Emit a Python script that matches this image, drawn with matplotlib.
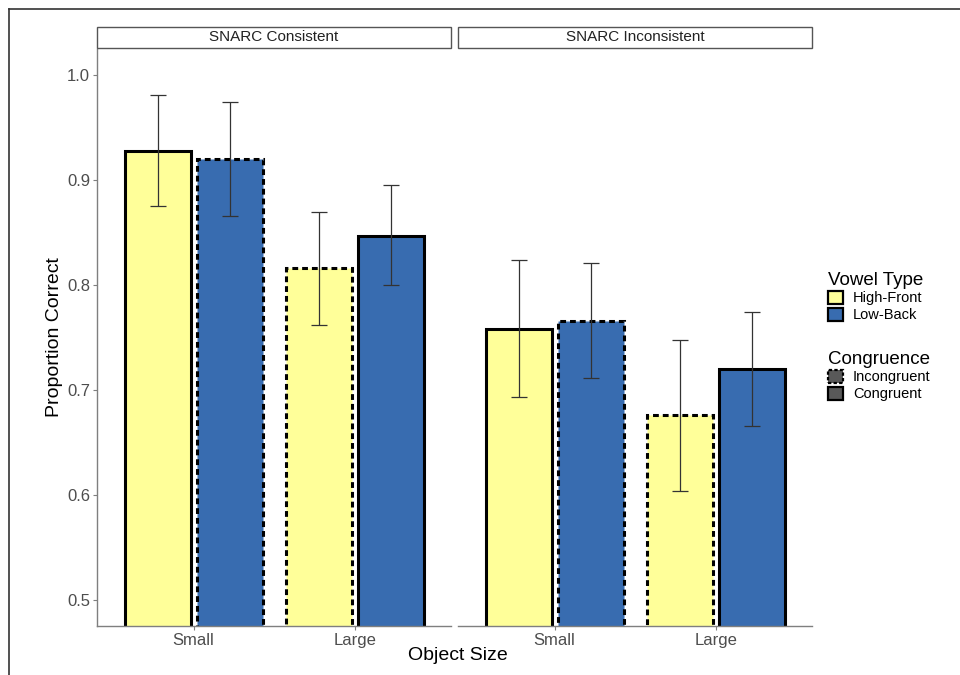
import matplotlib
matplotlib.use("Agg")
import matplotlib.pyplot as plt
from matplotlib.patches import Patch, Rectangle
from matplotlib.lines import Line2D

plt.rcParams["font.family"] = ["Liberation Sans", "DejaVu Sans"]

# data
panels = ["SNARC Consistent", "SNARC Inconsistent"]
sizes = ["Small", "Large"]
vowels = ["High-Front", "Low-Back"]

# mean proportion correct, [panel][size][vowel]
means = [
    [[0.928, 0.920], [0.816, 0.847]],
    [[0.758, 0.766], [0.676, 0.720]],
]
ci_low = [
    [[0.875, 0.866], [0.762, 0.800]],
    [[0.693, 0.712], [0.604, 0.666]],
]
ci_high = [
    [[0.981, 0.975], [0.870, 0.895]],
    [[0.824, 0.821], [0.748, 0.774]],
]
# True = congruent (solid edge), False = incongruent (dashed edge)
congruent = [
    [[True, False], [False, True]],
    [[True, False], [False, True]],
]

vowel_colors = ["#ffff99", "#386cb0"]
grey_txt = "#4d4d4d"
axis_grey = "#7f7f7f"

fig = plt.figure(figsize=(9.6, 6.75), dpi=100)

# outer frame (cropped figure border: top and left visible)
fig.add_artist(Line2D([0.0094, 1.0], [0.987, 0.987], color="#333333", lw=1.2))
fig.add_artist(Line2D([0.0094, 0.0094], [0.0, 0.987], color="#333333", lw=1.2))

ax_lefts = [0.1010, 0.4771]
ax_w = 0.3690
ax_bottom = 0.0730
ax_h = 0.8540
width = 0.41
offset = 0.2235

axes = []
for p, name in enumerate(panels):
    ax = fig.add_axes([ax_lefts[p], ax_bottom, ax_w, ax_h])
    axes.append(ax)
    for s, size in enumerate(sizes):
        for v, vowel in enumerate(vowels):
            x = s + 1 + (offset if v == 1 else -offset)
            m = means[p][s][v]
            ls = "-" if congruent[p][s][v] else (0, (1.9, 1.3))
            ax.bar(x, m - 0.4, bottom=0.4, width=width, color=vowel_colors[v],
                   edgecolor="black", linewidth=2.2, linestyle=ls, zorder=2)
            ax.errorbar(x, m, yerr=[[m - ci_low[p][s][v]], [ci_high[p][s][v] - m]],
                        fmt="none", ecolor="#333333", elinewidth=0.9,
                        capsize=5.7, capthick=0.9, zorder=3)
    ax.set_xlim(0.4, 2.6)
    ax.set_ylim(0.4755, 1.0248)
    ax.set_xticks([1, 2])
    ax.set_xticklabels(sizes)
    ax.set_yticks([0.5, 0.6, 0.7, 0.8, 0.9, 1.0])
    ax.set_yticklabels(["0.5", "0.6", "0.7", "0.8", "0.9", "1.0"])
    ax.tick_params(axis="both", colors=axis_grey, labelcolor=grey_txt,
                   labelsize=12, length=3, width=0.8, pad=2)
    for side in ["top", "right"]:
        ax.spines[side].set_visible(False)
    ax.spines["bottom"].set_color(axis_grey)
    ax.spines["left"].set_color(axis_grey)
    ax.spines["bottom"].set_linewidth(1.0)
    ax.spines["left"].set_linewidth(1.0)
    if p == 1:
        ax.spines["left"].set_visible(False)
        ax.tick_params(axis="y", left=False, labelleft=False)

    # facet strip
    strip = Rectangle((ax_lefts[p], 0.9289), ax_w, 0.0311, transform=fig.transFigure,
                      facecolor="white", edgecolor="#555555", lw=1.0)
    fig.add_artist(strip)
    fig.text(ax_lefts[p] + ax_w / 2, 0.9445, name, ha="center", va="center",
             fontsize=11, color="#222222")

axes[0].set_ylabel("Proportion Correct", fontsize=14, color="black", labelpad=3)
fig.text(0.4771, 0.029, "Object Size", ha="center", va="center", fontsize=14)

# legends
vowel_handles = [Patch(facecolor=c, edgecolor="black", lw=1.6) for c in vowel_colors]
leg1 = fig.legend(vowel_handles, vowels, title="Vowel Type", loc="upper left",
                  bbox_to_anchor=(0.849, 0.617), frameon=False, fontsize=10.5,
                  title_fontsize=13.5, handlelength=1.0, handleheight=1.0,
                  handletextpad=0.7, labelspacing=0.15, alignment="left")
cong_handles = [
    Patch(facecolor="#595959", edgecolor="black", lw=1.6, linestyle=(0, (1.5, 1.0))),
    Patch(facecolor="#595959", edgecolor="black", lw=1.6),
]
leg2 = fig.legend(cong_handles, ["Incongruent", "Congruent"], title="Congruence",
                  loc="upper left", bbox_to_anchor=(0.849, 0.500), frameon=False,
                  fontsize=10.5, title_fontsize=13.5, handlelength=1.0, handleheight=1.0,
                  handletextpad=0.7, labelspacing=0.15, alignment="left")

fig.savefig("out.png", dpi=100)
